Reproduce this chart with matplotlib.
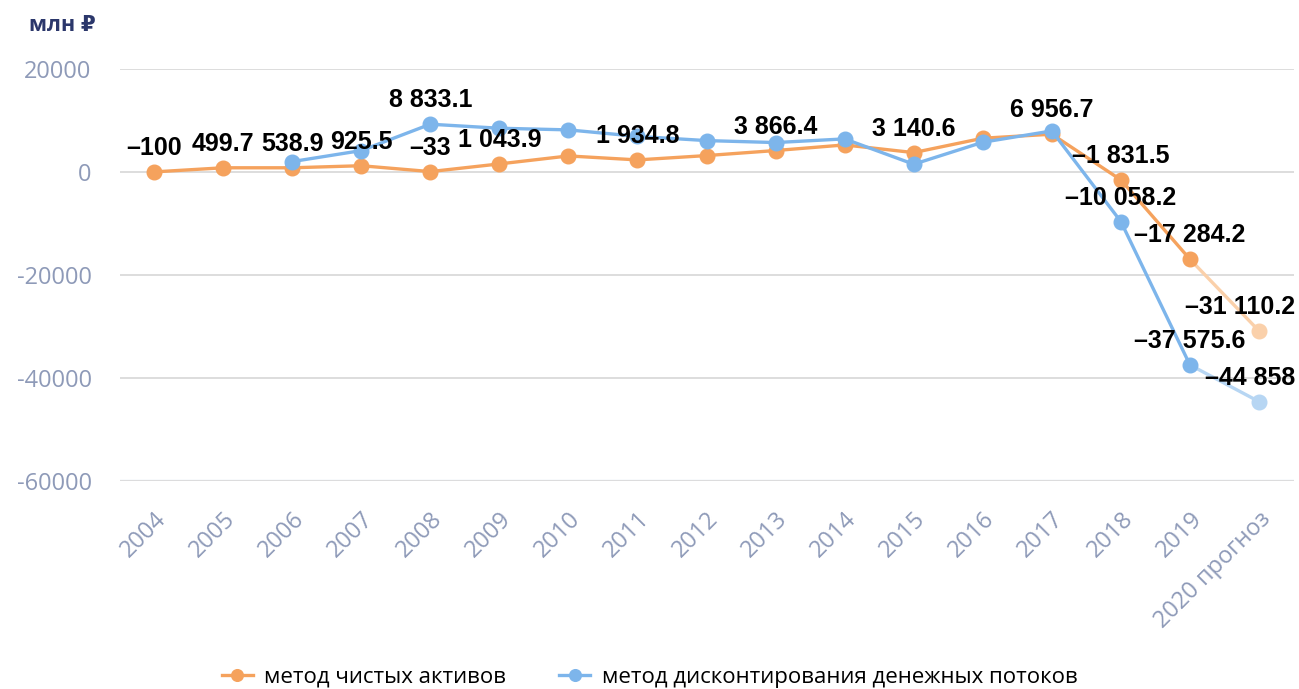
import matplotlib.pyplot as plt
import numpy as np

plt.rcParams['axes.unicode_minus'] = False

# Данные
years = ['2004', '2005', '2006', '2007', '2008', '2009', '2010', '2011', '2012',
         '2013', '2014', '2015', '2016', '2017', '2018', '2019', '2020 прогноз']
net_assets = [0, 800, 800, 1200, 60, 1550, 3100, 2330, 3170, 4150, 5240, 3750,
              6540, 7320, -1550, -16960, -30880]
dcf = [np.nan, np.nan, 2000, 4140, 9260, 8480, 8160, 6900, 6080, 5700, 6410, 1490,
       5760, 7960, -9650, -37480, -44600]

# подписи данных (как на исходной картинке)
net_labels = ['–100', '499.7', '538.9', '925.5', '–33', '1 043.9', None, '1 934.8', None,
              '3 866.4', None, '3 140.6', None, '6 956.7', '–1 831.5', '–17 284.2', '–31 110.2']
dcf_labels = [None, None, None, None, '8 833.1', None, None, None, None,
              None, None, None, None, None, '–10 058.2', '–37 575.6', '–44 858']

yticks = [20000, 0, -20000, -40000, -60000]
ytick_labels = ['20000', '0', '-20000', '-40000', '-60000']

legend_names = ['метод чистых активов', 'метод дисконтирования денежных потоков']

orange, orange_light = '#F5A25D', '#FAD0AA'
blue, blue_light = '#7DB5EB', '#B7D6F3'
tick_color = '#8E9AB8'
sans = ['Open Sans', 'DejaVu Sans']

fig = plt.figure(figsize=(12.99, 6.89), dpi=100)
ax = fig.add_axes([0.092, 0.302, 0.9038, 0.598])

x = np.arange(len(years))
lw, ms = 2.4, 10.5

# прогнозные отрезки (светлые)
ax.plot(x[-2:], net_assets[-2:], color=orange_light, lw=lw, zorder=2)
ax.plot(x[-1:], net_assets[-1:], 'o', color=orange_light, ms=ms, zorder=2)
ax.plot(x[-2:], dcf[-2:], color=blue_light, lw=lw, zorder=3)
ax.plot(x[-1:], dcf[-1:], 'o', color=blue_light, ms=ms, zorder=3)

ax.plot(x[:-1], net_assets[:-1], '-o', color=orange, lw=lw, ms=ms,
        label=legend_names[0], zorder=4)
ax.plot(x[:-1], dcf[:-1], '-o', color=blue, lw=lw, ms=ms,
        label=legend_names[1], zorder=5)

label_font = dict(family=['Liberation Sans', 'DejaVu Sans'], fontsize=18,
                  fontweight='bold', color='black')
for series, labels in [(net_assets, net_labels), (dcf, dcf_labels)]:
    for i, (v, t) in enumerate(zip(series, labels)):
        if t is None:
            continue
        if i == len(years) - 1:
            ax.annotate(t, (x[i], v), xytext=(36, 24), textcoords='offset pixels',
                        ha='right', va='center', zorder=6, **label_font)
        else:
            ax.annotate(t, (x[i], v), xytext=(0, 24), textcoords='offset pixels',
                        ha='center', va='center', zorder=6, **label_font)

ax.set_xlim(-0.5, len(years) - 0.5)
ax.set_ylim(-60000, 20000)
ax.set_yticks(yticks)
ax.set_yticklabels(ytick_labels, family=sans, fontsize=17, color=tick_color)
ax.set_xticks(x)
ax.set_xticklabels(years, rotation=45, ha='right', rotation_mode='anchor',
                   family=sans, fontsize=17, color=tick_color)

ax.tick_params(length=0)
ax.tick_params(axis='y', pad=20)
ax.tick_params(axis='x', pad=19)
for s in ax.spines.values():
    s.set_visible(False)
ax.grid(axis='y', color='#DDDDDD', lw=1.4, zorder=0)
ax.axhline(-60000, color='#C8D2E8', lw=1.6, zorder=1)

fig.text(0.022, 0.963, 'млн ₽', family=sans, fontsize=15.5,
         fontweight='bold', color='#2B376B', va='center')

fig.legend(loc='center', bbox_to_anchor=(0.5, 0.017), ncol=2, frameon=False,
           prop=dict(family=sans, size=16),
           handlelength=1.4, columnspacing=2.4, handletextpad=0.5, markerscale=0.8)

fig.savefig('out.png', dpi=100, facecolor='white')
